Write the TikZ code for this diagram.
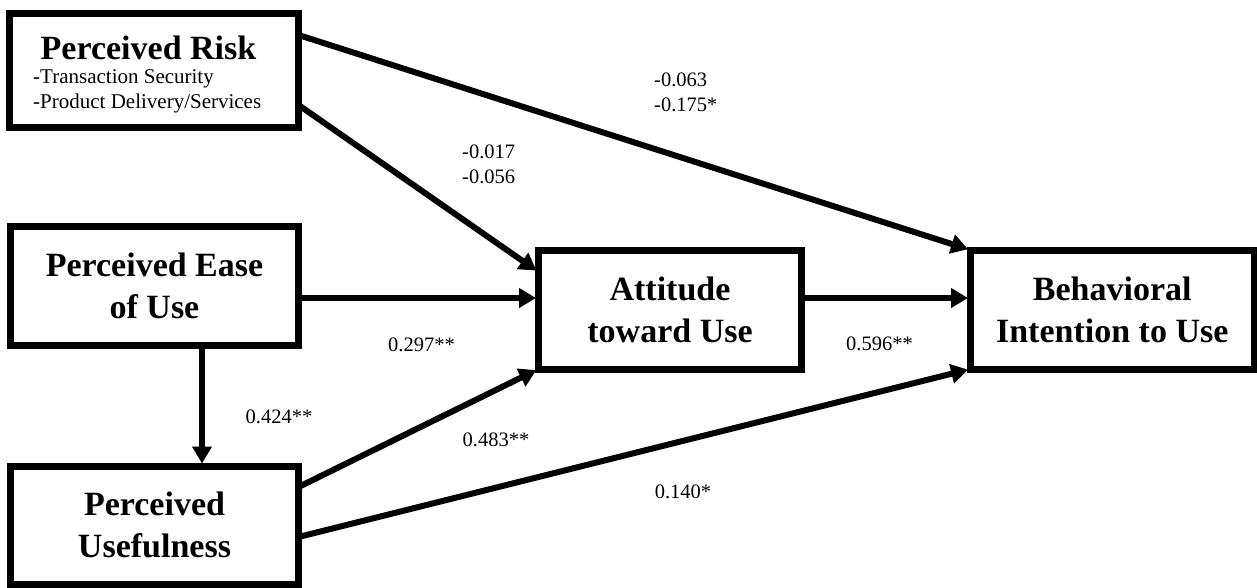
\documentclass[tikz,border=0pt]{standalone}
\usepackage{fontspec}
\setmainfont{Liberation Serif}
\usetikzlibrary{arrows.meta}
\begin{document}
\begin{tikzpicture}[x=1pt,y=-1pt,
  box/.style={draw, fill=white, line width=7pt, inner sep=0pt, outer sep=0pt,
    align=center, font=\fontsize{34}{42}\selectfont\bfseries},
  arr/.style={line width=6pt, -{Triangle[length=17pt,width=19pt]}, shorten >=2.5pt},
  num/.style={font=\fontsize{20.5}{25}\selectfont, inner sep=0pt, align=left},
  ttl/.style={font=\fontsize{34}{42}\selectfont\bfseries, inner sep=0pt},
  sub/.style={font=\fontsize{21}{25}\selectfont, inner sep=0pt, align=left}]
\useasboundingbox (0,0) rectangle (1257,587);
% boxes
\node[box, minimum width=289pt, minimum height=114pt] (pr) at (154,70.5) {};
\node[ttl] (prt) at (148.5,48) {Perceived Risk};
\node[sub, anchor=west] (prs) at (33,91.5) {-Transaction Security\\-Product Delivery/Services};
\node[box, minimum width=288pt, minimum height=119pt] (peou) at (154.5,285.5) {Perceived Ease\\of Use};
\node[box, minimum width=288pt, minimum height=118pt] (pu) at (154.5,525) {Perceived\\Usefulness};
\node[box, minimum width=263pt, minimum height=119pt] (att) at (670,309.5) {Attitude\\toward Use};
\node[box, minimum width=283.5pt, minimum height=119pt] (bi) at (1112.25,309.5) {Behavioral\\Intention to Use};
% helper coordinates
\coordinate (h1) at ([yshift=-12.5pt]peou.east);
\coordinate (h2) at ([yshift=11.5pt]att.east);
\coordinate (v1) at ([xshift=47.5pt]peou.south);
% connectors
\draw[arr] ([yshift=-21.5pt]pr.north east) -- (bi.north west);
\draw[arr] ([yshift=22.5pt]pr.south east) -- ([yshift=-22pt]att.north west);
\draw[arr] (h1) -- (h1 -| att.west);
\draw[arr] (h2) -- (h2 -| bi.west);
\draw[arr] (v1) -- (v1 |- pu.north);
\draw[arr] ([yshift=-21pt]pu.north east) -- (att.south west);
\draw[arr] ([yshift=-71pt]pu.north east) -- (bi.south west);
% labels
\node[num, anchor=west] (l1) at (654,92.5) {-0.063\\-0.175*};
\node[num, anchor=west] (l2) at (462,164.5) {-0.017\\-0.056};
\node[num] (l3) at (421.5,345) {0.297**};
\node[num] (l4) at (879.5,344) {0.596**};
\node[num] (l5) at (279,417) {0.424**};
\node[num] (l6) at (496,440) {0.483**};
\node[num] (l7) at (683,492) {0.140*};
\end{tikzpicture}
\end{document}
